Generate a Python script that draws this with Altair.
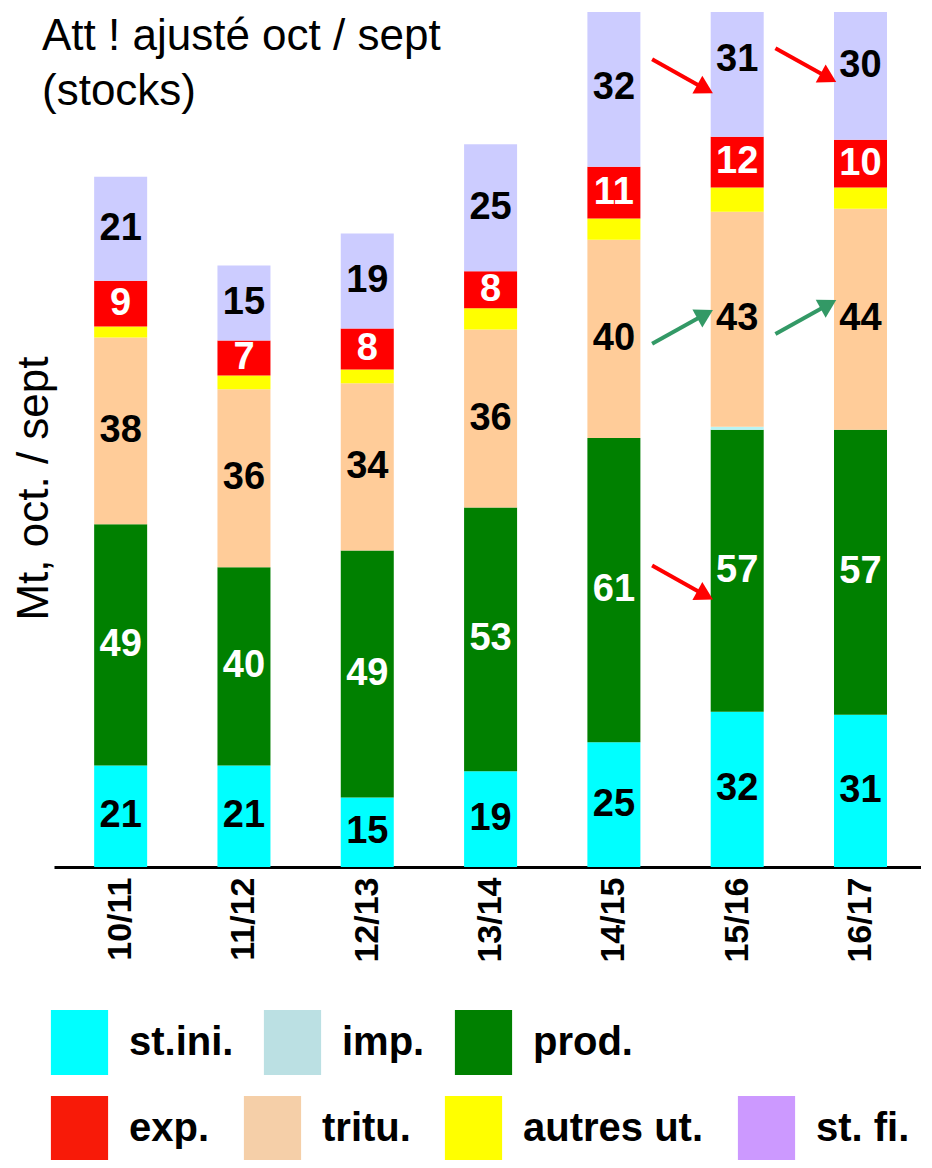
import math
import altair as alt
import pandas as pd

# ---------------- data ----------------
seasons = ["10/11", "11/12", "12/13", "13/14", "14/15", "15/16", "16/17"]

# segment heights, Mt (stacked bottom -> top)
st_ini = [20.6, 20.6, 14.1, 19.4, 25.3, 31.5, 30.9]
prod = [48.9, 40.2, 50.1, 53.5, 61.7, 57.2, 57.8]
imp = [0.0, 0.0, 0.0, 0.0, 0.0, 0.6, 0.0]
tritu = [37.9, 36.1, 33.9, 36.1, 40.2, 43.6, 44.8]
autres = [2.2, 2.8, 2.8, 4.3, 4.3, 4.9, 4.3]
exp_ = [9.3, 7.1, 8.3, 7.5, 10.5, 10.3, 9.7]
st_fi = [21.1, 15.2, 19.3, 25.8, 32.0, 31.0, 30.0]

# printed labels
lab_st_ini = [21, 21, 15, 19, 25, 32, 31]
lab_prod = [49, 40, 49, 53, 61, 57, 57]
lab_tritu = [38, 36, 34, 36, 40, 43, 44]
lab_exp = [9, 7, 8, 8, 11, 12, 10]
lab_st_fi = [21, 15, 19, 25, 32, 31, 30]

stack_order = ["st.ini.", "prod.", "imp.", "tritu.", "autres ut.", "exp.", "st. fi."]
bar_colors = ["#00FFFF", "#008000", "#B8F4F4", "#FFCC99", "#FFFF00", "#FF0000", "#CCCCFF"]

legend_row1 = ["st.ini.", "imp.", "prod."]
legend_row1_colors = ["#00FFFF", "#BBE0E3", "#008000"]
legend_row2 = ["exp.", "tritu.", "autres ut.", "st. fi."]
legend_row2_colors = ["#F81A08", "#F5CFA8", "#FFFF00", "#CC99FF"]

# trend arrows: (series, from season index, to season index)
arrows = [("st. fi.", 4, 5), ("st. fi.", 5, 6), ("tritu.", 4, 5), ("tritu.", 5, 6), ("prod.", 4, 5)]

title_lines = ["Att ! ajusté oct / sept", "(stocks)"]
y_title = "Mt, oct. / sept"

# ---------------- layout / style ----------------
X_DOM = [-0.5, 6.45]
W, H = 867, 855
Y_MAX = 173.4
FONT = "Liberation Sans"

heights = {"st.ini.": st_ini, "prod.": prod, "imp.": imp, "tritu.": tritu,
           "autres ut.": autres, "exp.": exp_, "st. fi.": st_fi}
labels = {"st.ini.": lab_st_ini, "prod.": lab_prod, "tritu.": lab_tritu,
          "exp.": lab_exp, "st. fi.": lab_st_fi}
white_text = {"prod.", "exp."}

rows = []
centers = {}
for i, s in enumerate(seasons):
    base = 0.0
    for ser in stack_order:
        v = heights[ser][i]
        lab = labels.get(ser)
        rows.append(dict(idx=i, season=s, series=ser, y0=base, y1=base + v,
                         mid=base + v / 2.0,
                         label=str(lab[i]) if lab else "",
                         tcolor="white" if ser in white_text else "black"))
        centers[(ser, i)] = base + v / 2.0
        base += v
df = pd.DataFrame(rows)

px_x = W / (X_DOM[1] - X_DOM[0])
px_y = H / Y_MAX
half = 3.0
arows = []
for ser, a, b in arrows:
    ym = (centers[(ser, a)] + centers[(ser, b)]) / 2.0
    change = labels[ser][b] - labels[ser][a]
    if change < 0:
        ya, yb, col = ym + half, ym - half, "#FF0000"
    else:
        ya, yb, col = ym - half, ym + half, "#339966"
    xa, xb = a + 0.31, a + 0.74
    ang = math.degrees(math.atan2((ya - yb) * px_y, (xb - xa) * px_x)) % 360
    arows.append(dict(xa=xa, xb=xb, ya=ya, yb=yb, col=col, ang=ang))
adf = pd.DataFrame(arows)

xscale = alt.Scale(domain=X_DOM, nice=False, zero=False)
yscale = alt.Scale(domain=[0, Y_MAX], nice=False, zero=False)

label_expr = "[" + ",".join("'%s'" % s for s in seasons) + "][datum.value]"
xaxis = alt.Axis(values=list(range(len(seasons))), labelExpr=label_expr, labelAngle=270,
                 labelFontSize=34, labelFont=FONT, labelFontWeight="bold", labelColor="black",
                 ticks=False, domain=True, domainColor="black", domainWidth=3, grid=False,
                 title=None, labelPadding=10, labelOverlap=False, labelFlush=False)
yaxis = alt.Axis(labels=False, ticks=False, domain=False, grid=False, title=y_title,
                 titleFontSize=44, titleFont=FONT, titleFontWeight="normal", titleColor="black",
                 titleAngle=270, titleX=-7, titleY=476, titleAlign="center",
                 titleBaseline="alphabetic")

bars = alt.Chart(df).mark_bar(clip=True, size=53).encode(
    x=alt.X("idx:Q", scale=xscale, axis=xaxis, title=None),
    y=alt.Y("y0:Q", scale=yscale, axis=yaxis, title=y_title),
    y2="y1:Q",
    color=alt.Color("series:N", scale=alt.Scale(domain=stack_order, range=bar_colors), legend=None),
)

texts = alt.Chart(df).transform_filter("datum.label != ''").mark_text(
    font=FONT, fontSize=38, fontWeight="bold", baseline="middle", align="center"
).encode(
    x=alt.X("idx:Q", scale=xscale, axis=xaxis, title=None),
    y=alt.Y("mid:Q", scale=yscale, axis=yaxis, title=y_title),
    text="label:N",
    color=alt.Color("tcolor:N", scale=None),
)

shafts = alt.Chart(adf).mark_rule(strokeWidth=4).encode(
    x=alt.X("xa:Q", scale=xscale, axis=xaxis, title=None), x2="xb:Q",
    y=alt.Y("ya:Q", scale=yscale, axis=yaxis, title=y_title), y2="yb:Q",
    color=alt.Color("col:N", scale=None),
)
heads = alt.Chart(adf).mark_point(shape="triangle-right", filled=True, size=420, opacity=1).encode(
    x=alt.X("xb:Q", scale=xscale, axis=xaxis, title=None),
    y=alt.Y("yb:Q", scale=yscale, axis=yaxis, title=y_title),
    angle=alt.Angle("ang:Q", scale=None),
    color=alt.Color("col:N", scale=None),
)

rect_path = "M-0.88,-1H0.88V1H-0.88Z"


def legend_layer(names, colors, ly, pad):
    ldf = pd.DataFrame({"series": names})
    return alt.Chart(ldf).transform_filter("false").mark_square().encode(
        color=alt.Color("series:N", scale=alt.Scale(domain=names, range=colors),
                        legend=alt.Legend(orient="none", legendX=-7, legendY=ly,
                                          direction="horizontal", columns=len(names),
                                          title=None, symbolType=rect_path, symbolSize=4225,
                                          symbolStrokeWidth=0, symbolOpacity=1,
                                          labelFontSize=40, labelFont=FONT,
                                          labelFontWeight="bold", labelColor="black",
                                          labelOffset=17, columnPadding=pad, padding=0,
                                          labelLimit=600, gridAlign="each"))
    )


leg1 = legend_layer(legend_row1, legend_row1_colors, 998, 26)
leg2 = legend_layer(legend_row2, legend_row2_colors, 1084, 30)

chart = alt.layer(bars, texts, shafts, heads, leg1, leg2).resolve_scale(
    color="independent"
).properties(
    width=W, height=H, background="white",
    title=alt.TitleParams(title_lines, anchor="start", frame="group", fontSize=44, font=FONT,
                          fontWeight="normal", color="black", lineHeight=55, dx=-12, offset=-102),
    autosize=alt.AutoSizeParams(type="none"),
    padding={"left": 46, "top": 4, "right": 0, "bottom": 293},
).configure_view(strokeWidth=0, stroke=None)

chart.save("out.html", embed_options={"renderer": "svg", "actions": False})
